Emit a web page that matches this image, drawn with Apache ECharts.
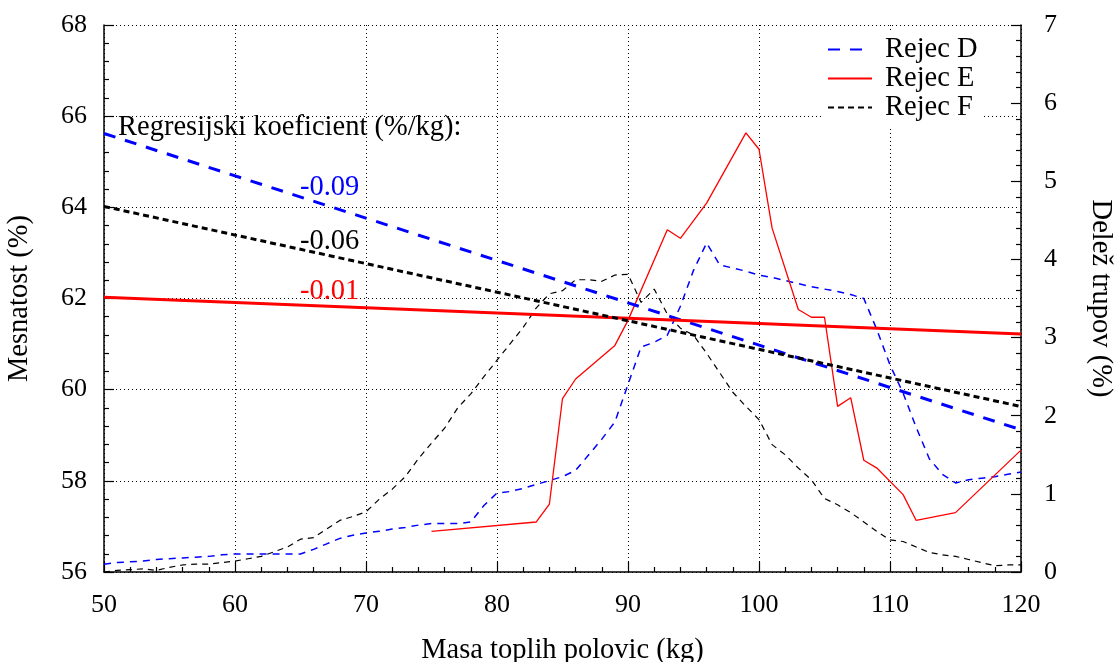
<!DOCTYPE html>
<html>
<head>
<meta charset="utf-8">
<script src="https://cdn.jsdelivr.net/npm/echarts@6/dist/echarts.min.js"></script>
<style>html,body{margin:0;padding:0;background:#fff}#c{width:1117px;height:662px}</style>
</head>
<body>
<div id="c"></div>
<script>
// x values (kg) for distributions D and F
const xKg = [50,51,52,53,54,55,56,57,58,59,60,61,62,63,64,65,66,67,68,69,70,71,72,73,74,75,76,77,78,79,80,81,82,83,84,85,86,87,88,89,90,91,92,93,94,95,96,97,98,99,100,101,102,103,104,105,106,107,108,109,110,111,112,113,114,115,116,117,118,119,120];
const delezD = [0.10,0.12,0.13,0.14,0.16,0.17,0.18,0.19,0.20,0.22,0.23,0.23,0.23,0.23,0.23,0.23,0.29,0.36,0.43,0.47,0.50,0.52,0.55,0.57,0.60,0.62,0.62,0.62,0.64,0.85,1.01,1.03,1.07,1.12,1.17,1.22,1.30,1.50,1.70,1.92,2.40,2.88,2.94,3.03,3.40,3.86,4.21,3.93,3.89,3.85,3.80,3.77,3.73,3.69,3.65,3.62,3.59,3.55,3.50,3.10,2.65,2.29,1.85,1.45,1.25,1.14,1.18,1.20,1.22,1.25,1.28];
const delezF = [0.00,0.02,0.03,0.04,0.02,0.06,0.09,0.10,0.10,0.12,0.14,0.17,0.20,0.26,0.32,0.42,0.44,0.55,0.66,0.71,0.77,0.93,1.06,1.22,1.45,1.65,1.84,2.10,2.28,2.50,2.71,2.92,3.13,3.38,3.56,3.60,3.74,3.74,3.72,3.80,3.81,3.45,3.62,3.30,3.12,3.03,2.80,2.55,2.30,2.12,1.95,1.63,1.50,1.33,1.18,0.94,0.86,0.76,0.64,0.52,0.41,0.39,0.32,0.25,0.22,0.20,0.16,0.12,0.08,0.09,0.09];
// distribution E
const xE = [75,83,84,85,86,89,90,93,94,96,99,100,101,103,104,105,106,107,108,109,111,112,115,120];
const delezE = [0.52,0.64,0.87,2.22,2.47,2.90,3.22,4.38,4.27,4.72,5.62,5.41,4.40,3.36,3.26,3.26,2.12,2.23,1.43,1.33,0.99,0.66,0.76,1.56];
// regression lines (Mesnatost %)
const regX = [50,120];
const regD = [65.62,59.12];
const regE = [62.03,61.22];
const regF = [64.02,59.63];
const names = ['Rejec D','Rejec E','Rejec F'];
const coefTitle = 'Regresijski koeficient (%/kg):';
const coefs = ['-0.09','-0.06','-0.01'];

const FONT = "'Liberation Serif','Times New Roman',serif";
const FS = 26;     // tick labels
const FT = 28.5;   // other texts
const pair = (xs, ys) => xs.map((x,i)=>[x, ys[i]]);

const chart = echarts.init(document.getElementById('c'));
const axisCommon = {
  axisLine:{show:true,lineStyle:{color:'#000',width:1.5}},
  axisTick:{show:true,inside:true,length:10,lineStyle:{color:'#000',width:1.2}},
  minorTick:{show:true,splitNumber:5,length:5,lineStyle:{color:'#000',width:1.2}},
  axisLabel:{color:'#000',fontFamily:FONT,fontSize:FS,margin:17},
  nameTextStyle:{color:'#000',fontFamily:FONT,fontSize:FT}
};
chart.setOption({
  animation:false,
  backgroundColor:'#fff',
  grid:{left:104,right:96,top:25,bottom:90,containLabel:false,outerBoundsMode:'none'},
  legend:{
    data:names, orient:'vertical', left:822, top:30, itemWidth:44, itemHeight:14, itemGap:0,
    itemStyle:{opacity:0},
    textStyle:{color:'#000',fontFamily:FONT,fontSize:FT,lineHeight:28,padding:[0,0,0,8]},
    backgroundColor:'#fff'
  },
  xAxis:Object.assign({}, axisCommon, {
    type:'value', min:50, max:120, interval:10,
    axisLabel:{color:'#000',fontFamily:FONT,fontSize:FS,margin:20},
    name:'Masa toplih polovic (kg)', nameLocation:'middle', nameGap:64,
    splitLine:{show:true,lineStyle:{color:'#000',type:[1,3],width:1}}
  }),
  yAxis:[
    Object.assign({}, axisCommon, {
      type:'value', min:56, max:68, interval:2, position:'left',
      name:'Mesnatost (%)', nameLocation:'middle', nameGap:70, nameRotate:90,
      splitLine:{show:true,lineStyle:{color:'#000',type:[1,3],width:1}}
    }),
    Object.assign({}, axisCommon, {
      type:'value', min:0, max:7, interval:1, position:'right',
      axisLabel:{color:'#000',fontFamily:FONT,fontSize:FS,margin:23},
      name:'Delež trupov (%)', nameLocation:'middle', nameGap:65, nameRotate:-90,
      splitLine:{show:false}
    })
  ],
  series:[
    {name:'D dist', type:'line', yAxisIndex:1, data:pair(xKg,delezD), symbol:'none', lineStyle:{color:'#0000ff',width:1.5,type:[7,6]}, z:2},
    {name:'E dist', type:'line', yAxisIndex:1, data:pair(xE,delezE), symbol:'none', lineStyle:{color:'#ff0000',width:1.3,type:'solid'}, z:2},
    {name:'F dist', type:'line', yAxisIndex:1, data:pair(xKg,delezF), symbol:'none', lineStyle:{color:'#000',width:1.2,type:[6,5]}, z:2},
    {name:names[0], type:'line', yAxisIndex:0, data:pair(regX,regD), symbol:'none', color:'#0000ff', lineStyle:{color:'#0000ff',width:3,type:[12,10]}, z:3},
    {name:names[1], type:'line', yAxisIndex:0, data:pair(regX,regE), symbol:'none', color:'#ff0000', lineStyle:{color:'#ff0000',width:3,type:'solid'}, z:3},
    {name:names[2], type:'line', yAxisIndex:0, data:pair(regX,regF), symbol:'none', color:'#000', lineStyle:{color:'#000',width:3,type:[6,4]}, z:3}
  ],
  graphic:[
    {type:'text', left:118, top:113, z:10, style:{text:coefTitle, fill:'#000', font:FT+'px '+FONT}},
    {type:'text', left:300, top:173, z:10, style:{text:coefs[0], fill:'#0000ff', font:FT+'px '+FONT}},
    {type:'text', left:300, top:227, z:10, style:{text:coefs[1], fill:'#000', font:FT+'px '+FONT}},
    {type:'text', left:300, top:277, z:10, style:{text:coefs[2], fill:'#ff0000', font:FT+'px '+FONT}}
  ]
});
</script>
</body>
</html>
